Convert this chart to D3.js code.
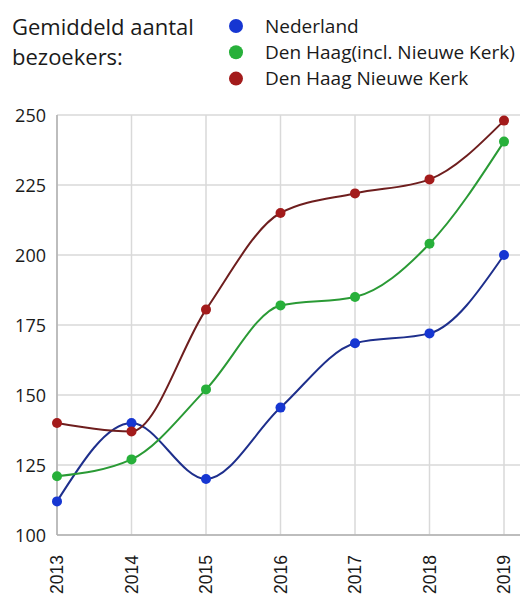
<!DOCTYPE html>
<html>
<head>
<meta charset="utf-8">
<script src="https://cdn.jsdelivr.net/npm/d3@7"></script>
<style>
  body { margin: 0; background: #fff; }
  text { fill: #1a1a1a; }
</style>
</head>
<body>
<div id="chart"></div>
<script>
const years = [2013, 2014, 2015, 2016, 2017, 2018, 2019]
const yTicks = [100, 125, 150, 175, 200, 225, 250]
const nederland = [112, 140, 120, 145.5, 168.5, 172, 200]
const denHaag = [121, 127, 152, 182, 185, 204, 240.5]
const nieuweKerk = [140, 137, 180.5, 215, 222, 227, 248]
const seriesNames = ["Nederland", "Den Haag(incl. Nieuwe Kerk)", "Den Haag Nieuwe Kerk"]
const titleLines = ["Gemiddeld aantal", "bezoekers:"]

const series = [
  {name: seriesNames[0], values: nederland, dot: "#1636d2", line: "#1e2f8c"},
  {name: seriesNames[1], values: denHaag, dot: "#27b03a", line: "#2a9a35"},
  {name: seriesNames[2], values: nieuweKerk, dot: "#a31b1b", line: "#6e1e1e"}
]

const W = 531, H = 597
const svg = d3.select("#chart").append("svg")
    .attr("width", W)
    .attr("height", H)

const x = d3.scaleLinear().domain([2013, 2019]).range([57, 504])
const y = d3.scaleLinear().domain([100, 250]).range([535, 115])

// grid
svg.append("g").selectAll("line.h")
    .data(yTicks)
    .enter().append("line")
    .attr("x1", 57).attr("x2", 520)
    .attr("y1", d => y(d)).attr("y2", d => y(d))
    .attr("stroke", "#d9d9d9").attr("stroke-width", 1.5)

svg.append("g").selectAll("line.v")
    .data(years)
    .enter().append("line")
    .attr("x1", d => x(d)).attr("x2", d => x(d))
    .attr("y1", y(250)).attr("y2", y(100))
    .attr("stroke", "#d9d9d9").attr("stroke-width", 1.5)

// axes lines
svg.append("line")
    .attr("x1", 57).attr("x2", 520).attr("y1", y(100)).attr("y2", y(100))
    .attr("stroke", "#b0b0b0").attr("stroke-width", 1.5)
svg.append("line")
    .attr("x1", 57).attr("x2", 57).attr("y1", y(250)).attr("y2", y(100))
    .attr("stroke", "#b0b0b0").attr("stroke-width", 1.5)

// y labels
svg.append("g").selectAll("text")
    .data(yTicks)
    .enter().append("text")
    .attr("x", 46).attr("y", d => y(d) + 6.5)
    .attr("text-anchor", "end")
    .style("font-family", "'Open Sans', sans-serif")
    .style("font-size", "18px")
    .text(d => d)

// x labels
svg.append("g").selectAll("text")
    .data(years)
    .enter().append("text")
    .attr("transform", d => `translate(${x(d) + 6}, 555) rotate(-90)`)
    .attr("text-anchor", "end")
    .style("font-family", "'Liberation Sans', Arial, sans-serif")
    .style("font-size", "17.5px")
    .text(d => d)

const line = d3.line()
    .x((d, i) => x(years[i]))
    .y(d => y(d))
    .curve(d3.curveMonotoneX)

series.forEach(s => {
  svg.append("path")
      .attr("d", line(s.values))
      .attr("fill", "none")
      .attr("stroke", s.line)
      .attr("stroke-width", 2)
  svg.append("g").selectAll("circle")
      .data(s.values)
      .enter().append("circle")
      .attr("cx", (d, i) => x(years[i]))
      .attr("cy", d => y(d))
      .attr("r", 5)
      .attr("fill", s.dot)
})

// title
svg.append("g").selectAll("text")
    .data(titleLines)
    .enter().append("text")
    .attr("x", 12).attr("y", (d, i) => 35 + i * 30)
    .style("font-family", "'Open Sans', sans-serif")
    .style("font-size", "22px")
    .text(d => d)

// legend
const leg = svg.append("g").selectAll("g")
    .data(series)
    .enter().append("g")
    .attr("transform", (d, i) => `translate(0, ${26 + i * 26.3})`)
leg.append("circle")
    .attr("cx", 236).attr("cy", 0).attr("r", 7)
    .attr("fill", d => d.dot)
leg.append("text")
    .attr("x", 265).attr("y", 6.5)
    .style("font-family", "'Open Sans', sans-serif")
    .style("font-size", "19px")
    .text(d => d.name)
</script>
</body>
</html>
